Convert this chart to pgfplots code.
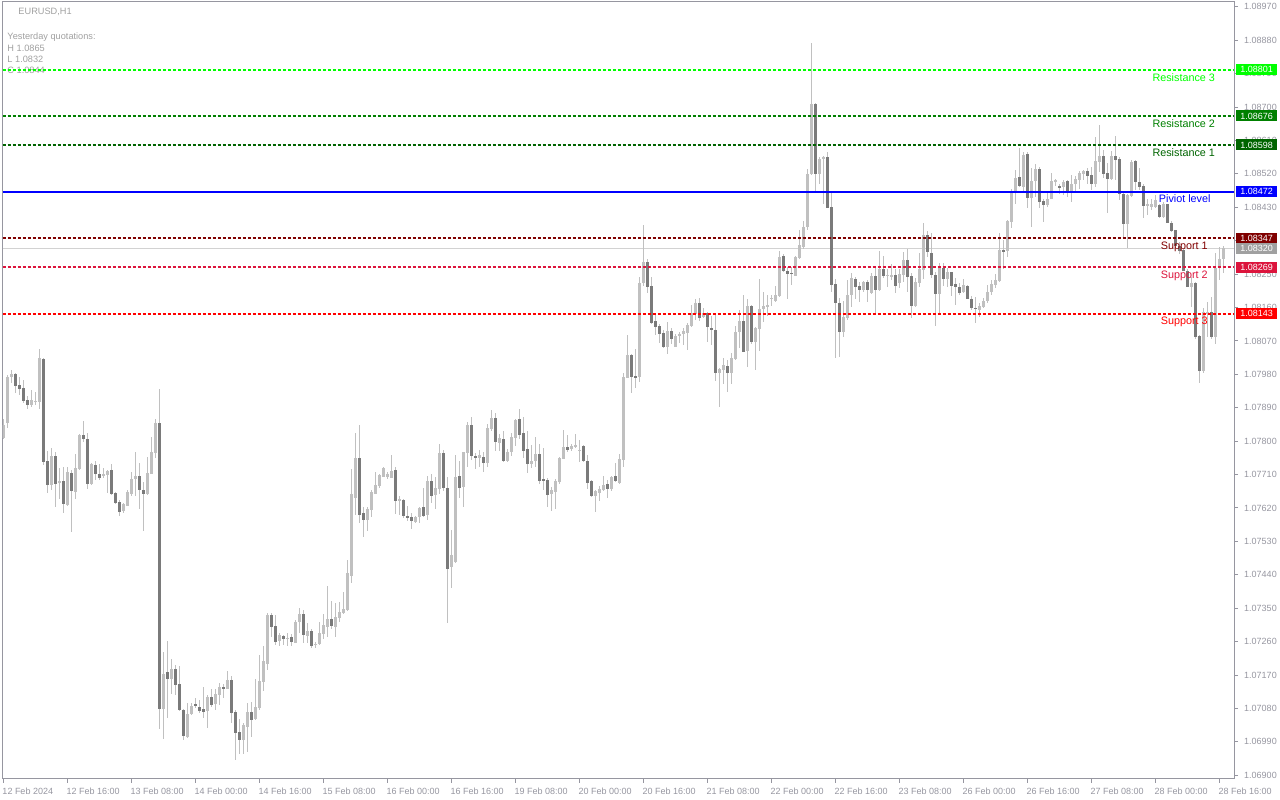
\documentclass[border=0pt]{standalone}
\usepackage{pgfplots}
\usepackage{pgfplotstable}
\pgfplotsset{compat=1.18}
\usepackage{fontspec}
\setmainfont{Liberation Sans}
\definecolor{framec}{RGB}{150,150,160}
\definecolor{tickc}{RGB}{150,150,160}
\definecolor{bullc}{RGB}{192,192,192}
\definecolor{bearc}{RGB}{122,122,122}
\definecolor{wickc}{RGB}{192,192,192}
\definecolor{resthree}{RGB}{0,255,0}
\definecolor{restwo}{RGB}{0,128,0}
\definecolor{resone}{RGB}{0,100,0}
\definecolor{pivc}{RGB}{0,0,255}
\definecolor{supone}{RGB}{128,0,0}
\definecolor{suptwo}{RGB}{220,20,60}
\definecolor{supthree}{RGB}{255,0,0}
\definecolor{bidc}{RGB}{210,210,210}
\definecolor{bidtag}{RGB}{160,160,160}
\definecolor{infoc}{RGB}{160,160,160}
\newcommand\tickfont{\fontsize{9bp}{10bp}\selectfont}
\newcommand\lblfont{\fontsize{10.8bp}{12bp}\selectfont}
\newcommand\infofont{\fontsize{9.2bp}{11bp}\selectfont}

\pgfplotstableread{
i o h l c
0 1.07808 1.07860 1.07806 1.07843
1 1.07850 1.07978 1.07835 1.07974
2 1.07972 1.07992 1.07958 1.07981
3 1.07981 1.07983 1.07929 1.07949
4 1.07951 1.07972 1.07924 1.07941
5 1.07943 1.07965 1.07904 1.07908
6 1.07911 1.07922 1.07887 1.07898
7 1.07898 1.07939 1.07893 1.07910
8 1.07906 1.07933 1.07897 1.07908
9 1.07906 1.08048 1.07888 1.08024
10 1.08021 1.08025 1.07736 1.07745
11 1.07747 1.07774 1.07661 1.07683
12 1.07683 1.07781 1.07668 1.07760
13 1.07760 1.07772 1.07624 1.07685
14 1.07688 1.07727 1.07643 1.07693
15 1.07693 1.07731 1.07606 1.07631
16 1.07629 1.07731 1.07624 1.07717
17 1.07714 1.07722 1.07554 1.07667
18 1.07664 1.07765 1.07645 1.07728
19 1.07726 1.07819 1.07721 1.07817
20 1.07817 1.07855 1.07799 1.07805
21 1.07806 1.07821 1.07672 1.07685
22 1.07685 1.07740 1.07683 1.07739
23 1.07736 1.07746 1.07695 1.07712
24 1.07712 1.07739 1.07695 1.07702
25 1.07706 1.07727 1.07700 1.07711
26 1.07710 1.07722 1.07661 1.07720
27 1.07722 1.07738 1.07654 1.07658
28 1.07660 1.07662 1.07631 1.07634
29 1.07636 1.07642 1.07599 1.07610
30 1.07613 1.07634 1.07606 1.07631
31 1.07626 1.07668 1.07624 1.07663
32 1.07658 1.07718 1.07651 1.07698
33 1.07697 1.07771 1.07651 1.07706
34 1.07706 1.07742 1.07616 1.07668
35 1.07668 1.07691 1.07559 1.07659
36 1.07658 1.07758 1.07655 1.07714
37 1.07712 1.07812 1.07711 1.07771
38 1.07769 1.07860 1.07756 1.07850
39 1.07849 1.07940 1.07024 1.07078
40 1.07078 1.07231 1.06997 1.07173
41 1.07178 1.07262 1.07054 1.07160
42 1.07160 1.07212 1.07119 1.07186
43 1.07186 1.07196 1.07116 1.07143
44 1.07146 1.07194 1.07072 1.07076
45 1.07076 1.07078 1.06995 1.07006
46 1.07004 1.07094 1.07000 1.07064
47 1.07064 1.07094 1.07063 1.07087
48 1.07091 1.07107 1.07082 1.07087
49 1.07083 1.07103 1.07069 1.07073
50 1.07079 1.07139 1.07054 1.07071
51 1.07072 1.07116 1.07027 1.07111
52 1.07111 1.07133 1.07085 1.07090
53 1.07091 1.07133 1.07076 1.07119
54 1.07117 1.07148 1.07089 1.07138
55 1.07138 1.07145 1.07109 1.07133
56 1.07133 1.07181 1.07132 1.07157
57 1.07157 1.07168 1.07042 1.07069
58 1.07071 1.07076 1.06940 1.07015
59 1.07017 1.07051 1.06957 1.06995
60 1.06995 1.07042 1.06957 1.07036
61 1.07031 1.07096 1.06964 1.07071
62 1.07071 1.07098 1.07004 1.07049
63 1.07052 1.07159 1.07049 1.07084
64 1.07080 1.07224 1.07077 1.07154
65 1.07151 1.07247 1.07126 1.07208
66 1.07200 1.07338 1.07184 1.07332
67 1.07332 1.07336 1.07272 1.07300
68 1.07302 1.07332 1.07251 1.07259
69 1.07262 1.07282 1.07248 1.07278
70 1.07274 1.07278 1.07251 1.07268
71 1.07266 1.07282 1.07247 1.07271
72 1.07273 1.07281 1.07248 1.07260
73 1.07257 1.07318 1.07256 1.07314
74 1.07314 1.07350 1.07284 1.07334
75 1.07334 1.07345 1.07256 1.07277
76 1.07275 1.07309 1.07256 1.07289
77 1.07289 1.07293 1.07242 1.07248
78 1.07252 1.07260 1.07242 1.07254
79 1.07254 1.07312 1.07251 1.07282
80 1.07281 1.07334 1.07266 1.07304
81 1.07300 1.07410 1.07273 1.07320
82 1.07322 1.07370 1.07293 1.07302
83 1.07300 1.07365 1.07273 1.07326
84 1.07323 1.07368 1.07314 1.07341
85 1.07336 1.07393 1.07334 1.07347
86 1.07345 1.07480 1.07343 1.07444
87 1.07438 1.07725 1.07419 1.07657
88 1.07648 1.07821 1.07601 1.07754
89 1.07754 1.07843 1.07579 1.07601
90 1.07607 1.07624 1.07543 1.07588
91 1.07588 1.07624 1.07558 1.07617
92 1.07615 1.07668 1.07597 1.07662
93 1.07659 1.07718 1.07658 1.07682
94 1.07679 1.07712 1.07675 1.07709
95 1.07704 1.07730 1.07703 1.07727
96 1.07704 1.07718 1.07698 1.07712
97 1.07702 1.07763 1.07700 1.07721
98 1.07722 1.07730 1.07604 1.07640
99 1.07640 1.07651 1.07601 1.07644
100 1.07642 1.07643 1.07594 1.07598
101 1.07598 1.07625 1.07586 1.07594
102 1.07596 1.07606 1.07564 1.07586
103 1.07583 1.07598 1.07579 1.07595
104 1.07595 1.07624 1.07580 1.07619
105 1.07622 1.07674 1.07597 1.07598
106 1.07601 1.07706 1.07589 1.07693
107 1.07693 1.07712 1.07634 1.07653
108 1.07655 1.07704 1.07618 1.07674
109 1.07672 1.07792 1.07658 1.07769
110 1.07769 1.07776 1.07667 1.07675
111 1.07675 1.07704 1.07311 1.07457
112 1.07462 1.07561 1.07404 1.07493
113 1.07475 1.07763 1.07471 1.07704
114 1.07706 1.07747 1.07648 1.07675
115 1.07677 1.07772 1.07622 1.07771
116 1.07769 1.07852 1.07731 1.07843
117 1.07843 1.07866 1.07749 1.07761
118 1.07761 1.07769 1.07724 1.07755
119 1.07755 1.07776 1.07731 1.07763
120 1.07757 1.07770 1.07718 1.07742
121 1.07742 1.07846 1.07731 1.07835
122 1.07834 1.07884 1.07827 1.07863
123 1.07863 1.07877 1.07774 1.07799
124 1.07796 1.07818 1.07774 1.07808
125 1.07806 1.07828 1.07744 1.07747
126 1.07747 1.07780 1.07743 1.07771
127 1.07771 1.07821 1.07760 1.07811
128 1.07809 1.07861 1.07787 1.07857
129 1.07860 1.07886 1.07805 1.07816
130 1.07823 1.07866 1.07756 1.07774
131 1.07780 1.07827 1.07715 1.07739
132 1.07739 1.07790 1.07727 1.07747
133 1.07747 1.07812 1.07731 1.07765
134 1.07765 1.07792 1.07685 1.07694
135 1.07698 1.07782 1.07668 1.07694
136 1.07695 1.07701 1.07624 1.07655
137 1.07658 1.07677 1.07613 1.07668
138 1.07664 1.07697 1.07618 1.07693
139 1.07691 1.07757 1.07685 1.07755
140 1.07753 1.07830 1.07751 1.07783
141 1.07783 1.07816 1.07772 1.07776
142 1.07780 1.07792 1.07773 1.07787
143 1.07784 1.07819 1.07782 1.07790
144 1.07773 1.07803 1.07745 1.07777
145 1.07787 1.07791 1.07743 1.07747
146 1.07747 1.07763 1.07670 1.07688
147 1.07693 1.07695 1.07650 1.07652
148 1.07653 1.07668 1.07609 1.07666
149 1.07661 1.07680 1.07639 1.07671
150 1.07669 1.07706 1.07667 1.07682
151 1.07685 1.07695 1.07648 1.07672
152 1.07672 1.07706 1.07667 1.07704
153 1.07706 1.07742 1.07689 1.07692
154 1.07688 1.07765 1.07685 1.07752
155 1.07748 1.07983 1.07731 1.07973
156 1.07971 1.08086 1.07969 1.08032
157 1.08032 1.08036 1.07929 1.07974
158 1.07975 1.08047 1.07944 1.07973
159 1.07974 1.08243 1.07960 1.08227
160 1.08225 1.08382 1.08218 1.08282
161 1.08282 1.08290 1.08198 1.08216
162 1.08218 1.08241 1.08115 1.08119
163 1.08124 1.08140 1.08086 1.08108
164 1.08110 1.08117 1.08065 1.08090
165 1.08092 1.08099 1.08052 1.08054
166 1.08054 1.08120 1.08036 1.08097
167 1.08097 1.08106 1.08061 1.08074
168 1.08054 1.08089 1.08053 1.08083
169 1.08083 1.08095 1.08065 1.08089
170 1.08089 1.08106 1.08059 1.08097
171 1.08092 1.08117 1.08045 1.08113
172 1.08111 1.08167 1.08108 1.08144
173 1.08142 1.08183 1.08126 1.08171
174 1.08171 1.08186 1.08124 1.08133
175 1.08135 1.08159 1.08131 1.08144
176 1.08144 1.08148 1.08068 1.08108
177 1.08106 1.08137 1.08058 1.08101
178 1.08099 1.08140 1.07963 1.07983
179 1.07983 1.07996 1.07893 1.07994
180 1.07992 1.08025 1.07954 1.08005
181 1.08002 1.08019 1.07933 1.07983
182 1.07983 1.08038 1.07954 1.08023
183 1.08021 1.08111 1.08019 1.08093
184 1.08095 1.08153 1.08050 1.08124
185 1.08124 1.08194 1.08039 1.08041
186 1.08043 1.08182 1.07999 1.08164
187 1.08164 1.08166 1.08063 1.08068
188 1.08068 1.08108 1.07992 1.08104
189 1.08102 1.08238 1.08044 1.08155
190 1.08155 1.08203 1.08122 1.08164
191 1.08162 1.08193 1.08137 1.08167
192 1.08184 1.08193 1.08164 1.08185
193 1.08178 1.08218 1.08176 1.08193
194 1.08191 1.08313 1.08189 1.08295
195 1.08299 1.08304 1.08256 1.08259
196 1.08259 1.08268 1.08184 1.08250
197 1.08254 1.08270 1.08220 1.08250
198 1.08246 1.08300 1.08245 1.08295
199 1.08293 1.08370 1.08290 1.08328
200 1.08324 1.08394 1.08319 1.08377
201 1.08378 1.08532 1.08370 1.08521
202 1.08519 1.08873 1.08517 1.08708
203 1.08708 1.08710 1.08469 1.08519
204 1.08519 1.08566 1.08494 1.08559
205 1.08560 1.08568 1.08440 1.08565
206 1.08565 1.08579 1.08427 1.08429
207 1.08431 1.08474 1.08203 1.08220
208 1.08223 1.08238 1.08023 1.08173
209 1.08173 1.08185 1.08028 1.08095
210 1.08093 1.08178 1.08081 1.08134
211 1.08133 1.08234 1.08126 1.08193
212 1.08194 1.08252 1.08162 1.08239
213 1.08237 1.08241 1.08182 1.08216
214 1.08218 1.08230 1.08174 1.08207
215 1.08207 1.08231 1.08203 1.08228
216 1.08228 1.08234 1.08176 1.08207
217 1.08200 1.08252 1.08196 1.08245
218 1.08245 1.08270 1.08142 1.08207
219 1.08207 1.08312 1.08205 1.08264
220 1.08264 1.08299 1.08240 1.08246
221 1.08245 1.08263 1.08216 1.08248
222 1.08243 1.08277 1.08234 1.08247
223 1.08247 1.08263 1.08200 1.08218
224 1.08225 1.08265 1.08212 1.08250
225 1.08248 1.08309 1.08228 1.08288
226 1.08288 1.08318 1.08203 1.08243
227 1.08245 1.08252 1.08133 1.08164
228 1.08164 1.08239 1.08162 1.08230
229 1.08227 1.08306 1.08216 1.08264
230 1.08261 1.08388 1.08236 1.08355
231 1.08355 1.08366 1.08297 1.08309
232 1.08306 1.08361 1.08239 1.08247
233 1.08247 1.08255 1.08110 1.08196
234 1.08196 1.08281 1.08142 1.08266
235 1.08266 1.08281 1.08218 1.08237
236 1.08237 1.08267 1.08216 1.08256
237 1.08256 1.08257 1.08191 1.08218
238 1.08223 1.08239 1.08167 1.08216
239 1.08215 1.08227 1.08195 1.08199
240 1.08202 1.08238 1.08198 1.08221
241 1.08218 1.08221 1.08182 1.08183
242 1.08183 1.08191 1.08153 1.08160
243 1.08160 1.08187 1.08119 1.08156
244 1.08153 1.08171 1.08135 1.08164
245 1.08162 1.08185 1.08158 1.08177
246 1.08177 1.08221 1.08173 1.08203
247 1.08202 1.08234 1.08195 1.08223
248 1.08221 1.08250 1.08212 1.08233
249 1.08231 1.08360 1.08230 1.08315
250 1.08314 1.08342 1.08263 1.08312
251 1.08312 1.08397 1.08297 1.08393
252 1.08390 1.08478 1.08374 1.08469
253 1.08470 1.08530 1.08439 1.08508
254 1.08511 1.08589 1.08485 1.08487
255 1.08485 1.08580 1.08472 1.08571
256 1.08573 1.08580 1.08429 1.08455
257 1.08455 1.08535 1.08378 1.08501
258 1.08501 1.08546 1.08458 1.08533
259 1.08533 1.08539 1.08427 1.08445
260 1.08448 1.08451 1.08391 1.08436
261 1.08436 1.08469 1.08432 1.08452
262 1.08452 1.08523 1.08451 1.08501
263 1.08499 1.08507 1.08488 1.08503
264 1.08487 1.08494 1.08467 1.08483
265 1.08485 1.08503 1.08463 1.08499
266 1.08501 1.08503 1.08458 1.08469
267 1.08469 1.08517 1.08445 1.08494
268 1.08492 1.08514 1.08474 1.08506
269 1.08503 1.08528 1.08478 1.08523
270 1.08519 1.08530 1.08503 1.08528
271 1.08528 1.08535 1.08494 1.08514
272 1.08517 1.08539 1.08476 1.08492
273 1.08492 1.08620 1.08485 1.08554
274 1.08553 1.08651 1.08526 1.08568
275 1.08568 1.08584 1.08508 1.08521
276 1.08523 1.08548 1.08414 1.08506
277 1.08506 1.08582 1.08503 1.08568
278 1.08568 1.08622 1.08503 1.08557
279 1.08559 1.08566 1.08449 1.08467
280 1.08467 1.08472 1.08351 1.08385
281 1.08385 1.08467 1.08321 1.08463
282 1.08461 1.08557 1.08458 1.08553
283 1.08554 1.08557 1.08476 1.08499
284 1.08499 1.08535 1.08476 1.08485
285 1.08487 1.08494 1.08400 1.08433
286 1.08433 1.08451 1.08409 1.08440
287 1.08431 1.08453 1.08422 1.08440
288 1.08431 1.08463 1.08427 1.08449
289 1.08436 1.08440 1.08400 1.08403
290 1.08403 1.08445 1.08400 1.08439
291 1.08439 1.08440 1.08387 1.08388
292 1.08388 1.08394 1.08364 1.08367
293 1.08369 1.08370 1.08324 1.08326
294 1.08326 1.08337 1.08304 1.08313
295 1.08315 1.08319 1.08258 1.08259
296 1.08259 1.08263 1.08214 1.08216
297 1.08214 1.08243 1.08162 1.08227
298 1.08227 1.08230 1.08074 1.08080
299 1.08083 1.08086 1.07957 1.07990
300 1.07990 1.08158 1.07984 1.08149
301 1.08144 1.08176 1.08080 1.08149
302 1.08149 1.08189 1.08074 1.08080
303 1.08080 1.08306 1.08061 1.08267
304 1.08267 1.08324 1.08234 1.08291
305 1.08291 1.08326 1.08252 1.08320
}\candles

\pgfplotsset{chartframe/.style={
  at={(2.7bp,21bp)}, anchor=south west,
  scale only axis, width=1231.3bp, height=777bp,
  xmin=-0.15, xmax=307.675, ymin=1.06890, ymax=1.08983},
  level/.style={mark=none, line width=1.3bp, dash pattern=on 3bp off 2bp}}

\begin{document}
\begin{tikzpicture}
\path[use as bounding box] (0,0) rectangle (1280bp,800bp);
% info text, top left
\node[anchor=base west, inner sep=0pt, text=infoc, font=\infofont] at (18.3bp,785.7bp) {EURUSD,H1};
\node[anchor=base west, inner sep=0pt, text=infoc, font=\infofont] at (7.3bp,760.7bp) {Yesterday quotations:};
\node[anchor=base west, inner sep=0pt, text=infoc, font=\infofont] at (7.3bp,748.7bp) {H 1.0865};
\node[anchor=base west, inner sep=0pt, text=infoc, font=\infofont] at (7.3bp,737.4bp) {L 1.0832};
\node[anchor=base west, inner sep=0pt, text=infoc, font=\infofont] at (7.3bp,726bp) {C 1.0844};
% ---- main axis: candles ----
\begin{axis}[
  chartframe,
  axis line style={draw=framec, line width=1bp},
  xtick pos=left, ytick pos=right, yticklabel pos=right,
  tick align=outside, major tick length=4bp,
  tick style={draw=framec, line width=1bp},
  xtick={0,16,...,304},
  xticklabels={12 Feb 2024,12 Feb 16:00,13 Feb 08:00,14 Feb 00:00,14 Feb 16:00,15 Feb 08:00,16 Feb 00:00,16 Feb 16:00,19 Feb 08:00,20 Feb 00:00,20 Feb 16:00,21 Feb 08:00,22 Feb 00:00,22 Feb 16:00,23 Feb 08:00,26 Feb 00:00,26 Feb 16:00,27 Feb 08:00,28 Feb 00:00,28 Feb 16:00},
  ytick={1.069,1.0699,1.0708,1.0717,1.0726,1.0735,1.0744,1.0753,1.0762,1.0771,1.078,1.0789,1.0798,1.0807,1.0816,1.0825,1.0834,1.0843,1.0852,1.0861,1.087,1.0879,1.0888,1.0897},
  yticklabels={1.06900,1.06990,1.07080,1.07170,1.07260,1.07350,1.07440,1.07530,1.07620,1.07710,1.07800,1.07890,1.07980,1.08070,1.08160,1.08250,1.08340,1.08430,1.08520,1.08610,1.08700,1.08790,1.08880,1.08970},
  scaled y ticks=false,
  yticklabel style={anchor=west, inner sep=0pt, xshift=6bp, font=\tickfont, text=tickc},
  xticklabel style={anchor=base west, inner sep=0pt, xshift=-1bp, yshift=-12bp, font=\tickfont, text=tickc},
]
% bid line
\addplot[draw=bidc, line width=1bp, mark=none, forget plot] coordinates {(-0.15,1.08320) (307.675,1.08320)};
% wicks
\addplot[draw=none, mark=none, forget plot,
  error bars/.cd, y dir=both, y explicit, error mark=none,
  error bar style={draw=wickc, solid, line width=1bp}]
  table[x=i, y expr={0.5*(\thisrow{h}+\thisrow{l})}, y error expr={0.5*(\thisrow{h}-\thisrow{l})}] {\candles};
% bull bodies
\addplot[draw=none, mark=none, forget plot, unbounded coords=discard,
  error bars/.cd, y dir=both, y explicit, error mark=none,
  error bar style={draw=bullc, solid, line width=3bp}]
  table[x=i, y expr={\thisrow{c}<\thisrow{o} ? nan : 0.5*(\thisrow{o}+\thisrow{c})}, y error expr={0.5*abs(\thisrow{c}-\thisrow{o})}] {\candles};
% bear bodies
\addplot[draw=none, mark=none, forget plot, unbounded coords=discard,
  error bars/.cd, y dir=both, y explicit, error mark=none,
  error bar style={draw=bearc, solid, line width=3bp}]
  table[x=i, y expr={\thisrow{c}<\thisrow{o} ? 0.5*(\thisrow{o}+\thisrow{c}) : nan}, y error expr={0.5*abs(\thisrow{c}-\thisrow{o})}] {\candles};
\end{axis}
% ---- overlay axis: pivot levels ----
\begin{axis}[chartframe, hide axis, clip mode=individual]
\addplot[draw=resthree, level, line width=1.5bp, yshift=-0.5bp] coordinates {(-0.15,1.08801) (307.675,1.08801)};
\addplot[draw=restwo, level] coordinates {(-0.15,1.08676) (307.675,1.08676)};
\addplot[draw=resone, level] coordinates {(-0.15,1.08598) (307.675,1.08598)};
\addplot[draw=pivc, mark=none, solid, line width=1.5bp, yshift=-0.4bp] coordinates {(-0.15,1.08472) (307.675,1.08472)};
\addplot[draw=supone, level] coordinates {(-0.15,1.08347) (307.675,1.08347)};
\addplot[draw=suptwo, level] coordinates {(-0.15,1.08269) (307.675,1.08269)};
\addplot[draw=supthree, level, line width=1.5bp, yshift=-0.2bp] coordinates {(-0.15,1.08143) (307.675,1.08143)};
\node[anchor=base west, inner sep=0pt, font=\lblfont, text=resthree, yshift=-11.5bp] at (axis cs:287.25,1.08801) {Resistance 3};
\node[anchor=base west, inner sep=0pt, font=\lblfont, text=restwo, yshift=-11.3bp] at (axis cs:287.25,1.08676) {Resistance 2};
\node[anchor=base west, inner sep=0pt, font=\lblfont, text=resone, yshift=-11.3bp] at (axis cs:287.25,1.08598) {Resistance 1};
\node[anchor=base west, inner sep=0pt, font=\lblfont, text=pivc, yshift=-11.3bp] at (axis cs:288.85,1.08472) {Piviot level};
\node[anchor=base west, inner sep=0pt, font=\lblfont, text=supone, yshift=-11.0bp] at (axis cs:289.35,1.08347) {Support 1};
\node[anchor=base west, inner sep=0pt, font=\lblfont, text=suptwo, yshift=-11.0bp] at (axis cs:289.35,1.08269) {Support 2};
\node[anchor=base west, inner sep=0pt, font=\lblfont, text=supthree, yshift=-11.0bp] at (axis cs:289.35,1.08143) {Support 3};
\coordinate (t1) at (axis cs:307.675,1.08801);
\coordinate (t2) at (axis cs:307.675,1.08676);
\coordinate (t3) at (axis cs:307.675,1.08598);
\coordinate (t4) at (axis cs:307.675,1.08472);
\coordinate (t5) at (axis cs:307.675,1.08347);
\coordinate (t6) at (axis cs:307.675,1.08320);
\coordinate (t7) at (axis cs:307.675,1.08269);
\coordinate (t8) at (axis cs:307.675,1.08143);
\end{axis}
\tikzset{tag/.style={anchor=west, xshift=1.7bp, inner sep=0pt, minimum width=41.3bp, minimum height=11bp, text=white, font=\tickfont}}
\node[tag, fill=resthree] at (t1) {1.08801};
\node[tag, fill=restwo] at (t2) {1.08676};
\node[tag, fill=resone] at (t3) {1.08598};
\node[tag, fill=pivc] at (t4) {1.08472};
\node[tag, fill=supone] at (t5) {1.08347};
\node[tag, fill=bidtag] at (t6) {1.08320};
\node[tag, fill=suptwo] at (t7) {1.08269};
\node[tag, fill=supthree] at (t8) {1.08143};
\end{tikzpicture}
\end{document}
